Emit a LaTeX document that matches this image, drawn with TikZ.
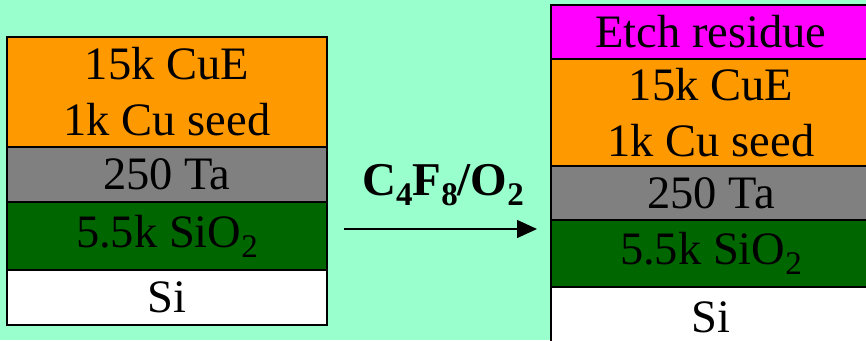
\documentclass[tikz,border=0pt]{standalone}
\usepackage{fontspec}
\setmainfont{Liberation Serif}
\usetikzlibrary{arrows.meta,positioning}
\definecolor{BGMint}{HTML}{99FFCC}
\definecolor{LYCopper}{HTML}{FF9900}
\definecolor{LYTa}{HTML}{808080}
\definecolor{LYOxide}{HTML}{006600}
\definecolor{LYResidue}{HTML}{FF00FF}
\newcommand{\subdigit}[1]{\raisebox{-0.22em}{\fontsize{33}{33}\selectfont #1}}
\tikzset{
  layer/.style={draw=black,line width=1.2pt,minimum width=320pt,inner sep=0pt,outer sep=0pt,
                text=black,align=center,font=\fontsize{46.5}{56}\selectfont},
  layercu/.style={layer,fill=LYCopper},
  layerta/.style={layer,fill=LYTa},
  layerox/.style={layer,fill=LYOxide},
  layersi/.style={layer,fill=white},
  layerres/.style={layer,fill=LYResidue},
  process/.style={-{Triangle[length=20pt,width=18pt]},black,line width=1.4pt},
  gaslabel/.style={text=black,font=\fontsize{47}{56}\selectfont\bfseries},
}
\begin{document}
\begin{tikzpicture}[x=1pt,y=-1pt]
  \useasboundingbox (0,0) rectangle (866,340);
  \fill[BGMint] (0,0) rectangle (866,340);
  \clip (0,0) rectangle (866,340);

  % stack before etch
  \node[layercu,anchor=north west,minimum height=110pt] (cuL) at (7,37) {15k CuE\\1k Cu seed};
  \node[layerta,minimum height=55pt,below=0pt of cuL] (taL) {250 Ta};
  \node[layerox,minimum height=68pt,below=0pt of taL] (oxL) {5.5k SiO\subdigit{2}};
  \node[layersi,minimum height=55pt,below=0pt of oxL] (siL) {Si};

  % stack after etch
  \node[layerres,anchor=north west,minimum height=54pt] (resR) at (551,5) {Etch residue};
  \node[layercu,minimum height=107pt,below=0pt of resR] (cuR) {15k CuE\\1k Cu seed};
  \node[layerta,minimum height=54pt,below=0pt of cuR] (taR) {250 Ta};
  \node[layerox,minimum height=67pt,below=0pt of taR] (oxR) {5.5k SiO\subdigit{2}};
  \node[layersi,minimum height=60pt,below=0pt of oxR] (siR) {Si};

  \coordinate (etchA) at (344,229);
  \coordinate (etchB) at (537,229);
  \draw[process] (etchA) -- (etchB);
  \node[gaslabel,anchor=base] (gas) at (443,195) {C\subdigit{4}F\subdigit{8}/O\subdigit{2}};
\end{tikzpicture}
\end{document}
